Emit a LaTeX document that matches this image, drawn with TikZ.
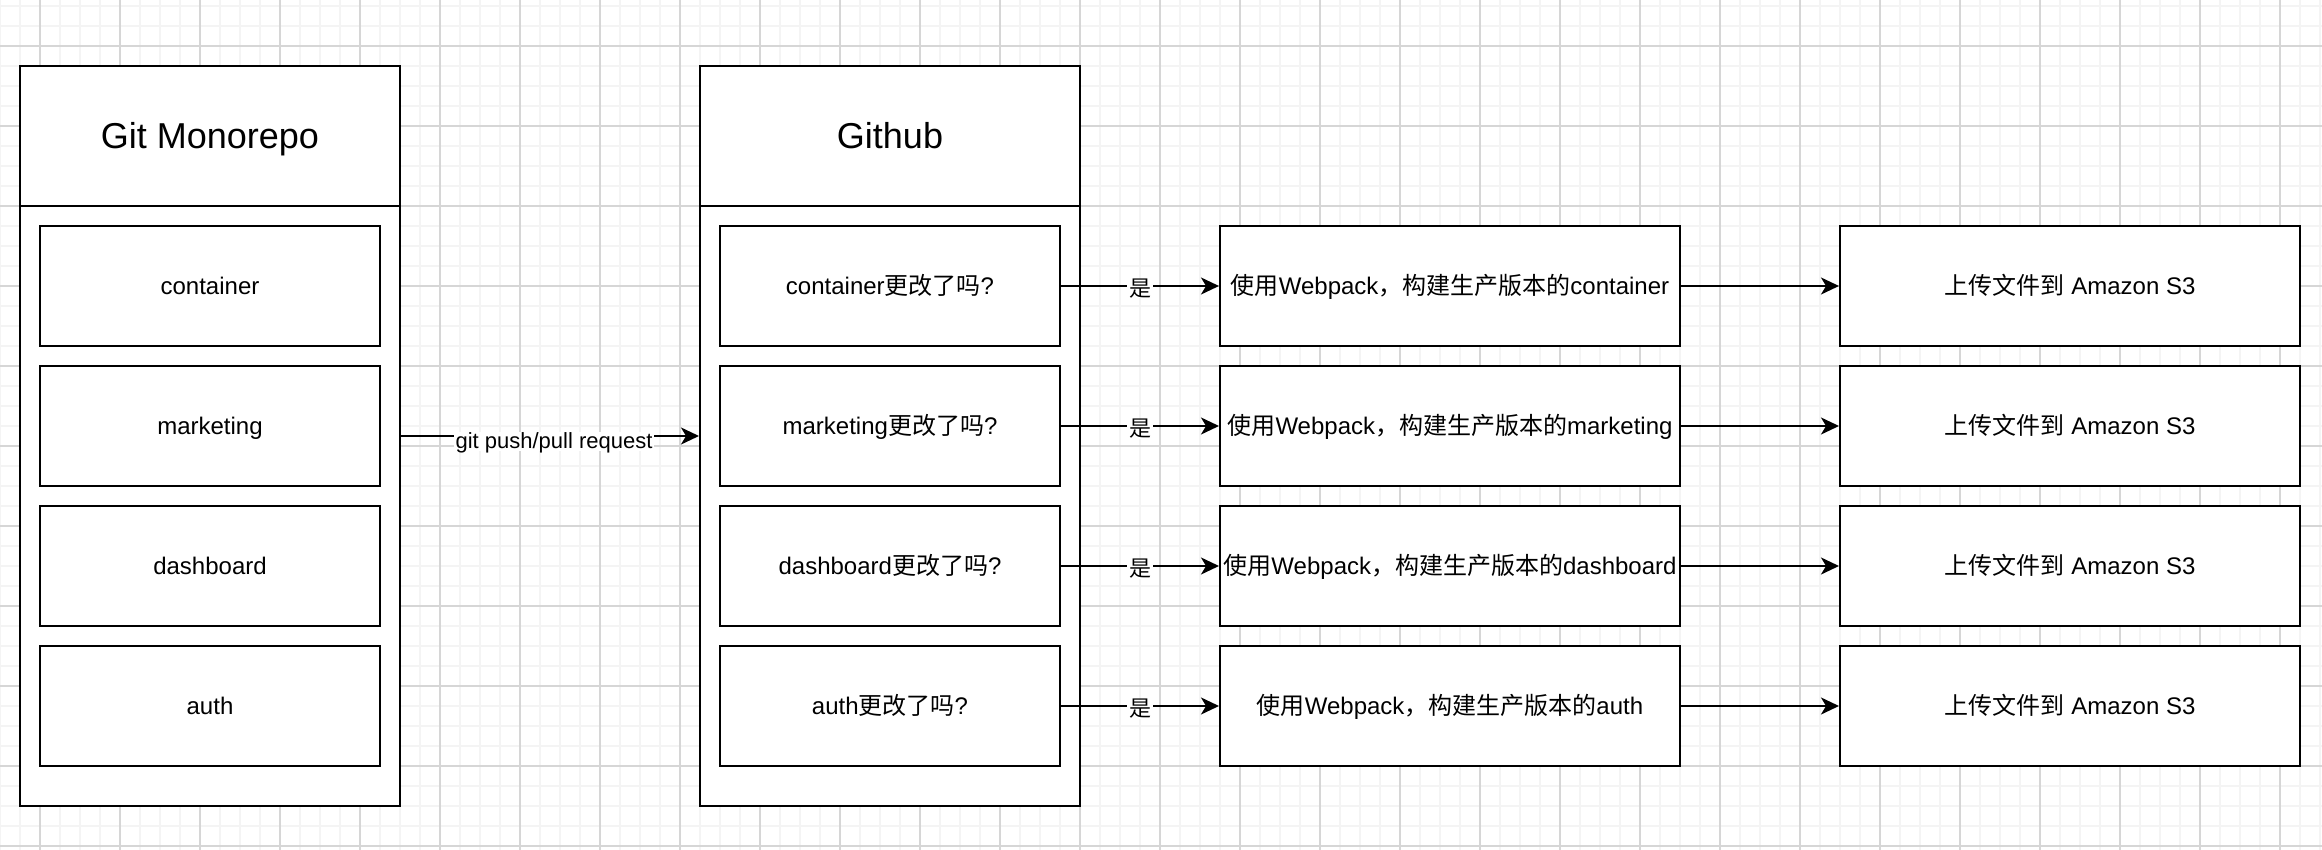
\documentclass[tikz,border=0pt]{standalone}
\usepackage{fontspec}
\setmainfont{Liberation Sans}
\newfontfamily\cjk{Noto Sans CJK SC}
\newcommand{\zhtext}[1]{{\cjk #1}}
\usepackage{xcolor}
\definecolor{gridminor}{RGB}{244, 244, 244}
\definecolor{gridmajor}{RGB}{214, 214, 214}
\usetikzlibrary{arrows.meta}

\begin{document}
\begin{tikzpicture}[x=1pt, y=-1pt,
        outer/.style={draw, fill=white, line width=2pt, minimum width=380pt, minimum height=740pt, inner sep=0pt},
        title/.style={inner sep=0pt, text height=26pt, text depth=0pt, font=\fontsize{36}{40}\selectfont},
        box/.style={draw, fill=white, line width=2pt, minimum width=340pt, minimum height=120pt, inner sep=0pt, text height=17pt, text depth=0pt, font=\fontsize{24}{28}\selectfont},
        widebox/.style={box, minimum width=460pt},
        arr/.style={-{Stealth[length=18pt, width=17pt, inset=5pt]}, line width=2pt},
        lbl/.style={fill=white, inner sep=2pt, text height=15pt, text depth=0pt, yshift=-5pt, font=\fontsize{22}{26}\selectfont},
        yes/.style={lbl, yshift=2pt}]
        \useasboundingbox (0,0) rectangle (2322,850);
        \fill[white] (0,0) rectangle (2322,850);
        % grid
        \foreach \x in {0,20,...,2320} \draw[gridminor, line width=1.6pt] (\x,0)--(\x,850);
        \foreach \y in {6,26,...,846} \draw[gridminor, line width=1.6pt] (0,\y)--(2322,\y);
        \foreach \x in {40,120,...,2280} \draw[gridmajor, line width=1.2pt] (\x,0)--(\x,850);
        \foreach \y in {46,126,...,846} \draw[gridmajor, line width=1.2pt] (0,\y)--(2322,\y);
        % monorepo
        \node[outer] (mono) at (210, 436) {};
        \draw[line width=2pt] (20, 206)--(400, 206);
        \node[title] (monotitle) at (210, 136) {Git Monorepo};
        \node[box] (src1) at (210, 286) {container};
        \node[box] (src2) at (210, 426) {marketing};
        \node[box] (src3) at (210, 566) {dashboard};
        \node[box] (src4) at (210, 706) {auth};
        % github
        \node[outer] (hub) at (890, 436) {};
        \draw[line width=2pt] (700, 206)--(1080, 206);
        \node[title] (hubtitle) at (890, 136) {Github};
        \node[box] (chk1) at (890, 286) {container\zhtext{更改了吗}?};
        \node[box] (chk2) at (890, 426) {marketing\zhtext{更改了吗}?};
        \node[box] (chk3) at (890, 566) {dashboard\zhtext{更改了吗}?};
        \node[box] (chk4) at (890, 706) {auth\zhtext{更改了吗}?};
        % build
        \node[widebox] (build1) at (1450, 286) {\zhtext{使用}Webpack\zhtext{，构建生产版本的}container};
        \node[widebox] (build2) at (1450, 426) {\zhtext{使用}Webpack\zhtext{，构建生产版本的}marketing};
        \node[widebox] (build3) at (1450, 566) {\zhtext{使用}Webpack\zhtext{，构建生产版本的}dashboard};
        \node[widebox] (build4) at (1450, 706) {\zhtext{使用}Webpack\zhtext{，构建生产版本的}auth};
        % upload
        \node[widebox] (up1) at (2070, 286) {\zhtext{上传文件到} Amazon S3};
        \node[widebox] (up2) at (2070, 426) {\zhtext{上传文件到} Amazon S3};
        \node[widebox] (up3) at (2070, 566) {\zhtext{上传文件到} Amazon S3};
        \node[widebox] (up4) at (2070, 706) {\zhtext{上传文件到} Amazon S3};
        % arrows
        \draw[arr] (mono)--node[lbl, xshift=4pt]{git push/pull request}(hub);
        \draw[arr] (chk1)--node[yes]{\zhtext{是}}(build1);
        \draw[arr] (chk2)--node[yes]{\zhtext{是}}(build2);
        \draw[arr] (chk3)--node[yes]{\zhtext{是}}(build3);
        \draw[arr] (chk4)--node[yes]{\zhtext{是}}(build4);
        \draw[arr] (build1)--(up1);
        \draw[arr] (build2)--(up2);
        \draw[arr] (build3)--(up3);
        \draw[arr] (build4)--(up4);
    \end{tikzpicture}
\end{document}
